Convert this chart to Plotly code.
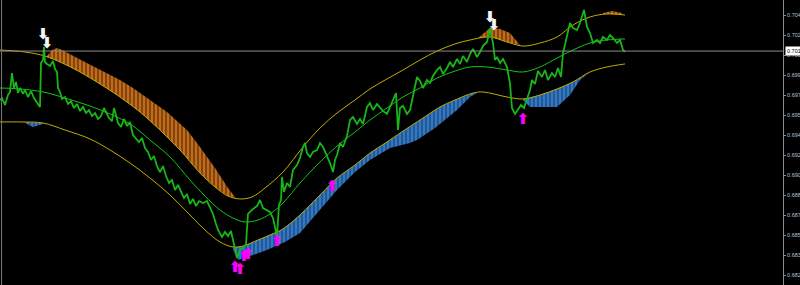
import plotly.graph_objects as go

# ---------------- data (bar index, price) ----------------
PRICE_X = [0, 2, 5, 8, 10, 12, 14, 16, 18, 20, 23, 25, 28, 31, 34, 37, 40, 41, 43, 44, 45, 47, 50, 53, 55, 57, 58, 60, 62, 65,
           68, 71, 74, 77, 80, 83, 86, 89, 92, 95, 98, 101, 104, 106, 109, 112, 114, 116, 118, 121, 124, 127, 130, 133, 136,
           139, 142, 145, 148, 151, 154, 157, 160, 163, 166, 169, 172, 175, 178, 181, 184, 187, 190, 193, 196, 199, 203, 207,
           210, 213, 216, 218, 222, 225, 228, 231, 233, 235, 237, 240, 243, 246, 248, 250, 253, 257, 260, 263, 267, 270, 273,
           277, 279, 281, 282, 284, 287, 290, 293, 297, 300, 303, 305, 307, 310, 313, 317, 320, 323, 327, 330, 333, 335, 337,
           340, 343, 347, 350, 353, 357, 360, 363, 367, 370, 373, 377, 380, 383, 387, 390, 393, 396, 398, 400, 403, 407, 410,
           413, 417, 420, 423, 427, 430, 433, 437, 440, 443, 447, 450, 453, 457, 460, 463, 467, 470, 473, 477, 480, 483, 487,
           490, 493, 495, 497, 500, 503, 507, 510, 512, 515, 518, 521, 524, 527, 530, 532, 535, 538, 542, 545, 548, 552, 555,
           558, 561, 563, 567, 570, 573, 577, 580, 584, 587, 590, 593, 597, 600, 603, 607, 610, 613, 617, 620, 623, 625]
PRICE_Y = [0.69709, 0.69726, 0.69666, 0.69752, 0.69778, 0.69941, 0.69812, 0.69864, 0.69769, 0.69812, 0.69761, 0.69795,
           0.69735, 0.69786, 0.69726, 0.69683, 0.69649, 0.70027, 0.70053, 0.70165, 0.70036, 0.70019, 0.70001, 0.70044,
           0.69976, 0.69950, 0.69812, 0.69778, 0.69718, 0.69735, 0.69675, 0.69700, 0.69640, 0.69675, 0.69614, 0.69649,
           0.69597, 0.69623, 0.69571, 0.69597, 0.69546, 0.69571, 0.69640, 0.69606, 0.69554, 0.69528, 0.69640, 0.69580,
           0.69511, 0.69477, 0.69546, 0.69485, 0.69520, 0.69408, 0.69382, 0.69348, 0.69382, 0.69296, 0.69262, 0.69193,
           0.69227, 0.69141, 0.69090, 0.69141, 0.69055, 0.68995, 0.69021, 0.68935, 0.68978, 0.68918, 0.68866, 0.68901,
           0.68815, 0.68858, 0.68797, 0.68840, 0.68823, 0.68840, 0.68780, 0.68729, 0.68643, 0.68591, 0.68531, 0.68574,
           0.68539, 0.68582, 0.68505, 0.68419, 0.68350, 0.68419, 0.68436, 0.68471, 0.68729, 0.68746, 0.68772, 0.68797,
           0.68849, 0.68780, 0.68763, 0.68746, 0.68694, 0.68539, 0.68806, 0.68849, 0.69047, 0.68918, 0.68995, 0.68961,
           0.69107, 0.69150, 0.69210, 0.69305, 0.69339, 0.69253, 0.69219, 0.69262, 0.69279, 0.69339, 0.69305, 0.69227,
           0.69167, 0.69090, 0.69193, 0.69236, 0.69339, 0.69305, 0.69399, 0.69537, 0.69563, 0.69503, 0.69546, 0.69503,
           0.69649, 0.69683, 0.69623, 0.69675, 0.69649, 0.69614, 0.69589, 0.69649, 0.69709, 0.69769, 0.69451, 0.69640,
           0.69658, 0.69589, 0.69623, 0.69735, 0.69907, 0.69873, 0.69812, 0.69881, 0.69855, 0.69915, 0.69967, 0.69993,
           0.69933, 0.69984, 0.70036, 0.69993, 0.70062, 0.70019, 0.70087, 0.70036, 0.70105, 0.70148, 0.70079, 0.70122,
           0.70173, 0.70208, 0.70328, 0.70199, 0.70053, 0.70079, 0.70027, 0.70062, 0.69993, 0.69847, 0.69640, 0.69589,
           0.69623, 0.69666, 0.69640, 0.69709, 0.69795, 0.69881, 0.69847, 0.69958, 0.69907, 0.69967, 0.69881, 0.69941,
           0.69907, 0.69984, 0.69907, 0.70113, 0.70251, 0.70371, 0.70328, 0.70311, 0.70371, 0.70483, 0.70337, 0.70285,
           0.70199, 0.70225, 0.70199, 0.70251, 0.70225, 0.70268, 0.70242, 0.70199, 0.70225, 0.70139, 0.70122]

UPPER_X = [0, 25, 45, 60, 80, 100, 120, 140, 160, 180, 200, 215, 228, 240, 252, 265, 283, 303, 320, 337, 355, 370, 387,
           403, 420, 437, 455, 470, 490, 507, 523, 540, 557, 573, 590, 607, 625]
UPPER_Y = [0.70139, 0.70122, 0.70087, 0.70036, 0.69950, 0.69847, 0.69735, 0.69606, 0.69451, 0.69279, 0.69081, 0.68961,
           0.68883, 0.68858, 0.68875, 0.68952, 0.69090, 0.69305, 0.69468, 0.69597, 0.69709, 0.69804, 0.69890, 0.69967,
           0.70053, 0.70130, 0.70191, 0.70225, 0.70251, 0.70208, 0.70173, 0.70199, 0.70251, 0.70354, 0.70423, 0.70449,
           0.70440]

MIDDLE_X = [0, 20, 43, 65, 90, 110, 130, 150, 170, 190, 205, 220, 233, 245, 258, 270, 283, 300, 320, 337, 355, 370, 387,
            403, 420, 437, 455, 470, 487, 507, 523, 540, 557, 573, 590, 607, 625]
MIDDLE_Y = [0.69812, 0.69804, 0.69778, 0.69726, 0.69657, 0.69589, 0.69503, 0.69365, 0.69219, 0.69021, 0.68883, 0.68763,
            0.68694, 0.68660, 0.68677, 0.68729, 0.68823, 0.68995, 0.69176, 0.69313, 0.69434, 0.69537, 0.69640, 0.69735,
            0.69812, 0.69898, 0.69958, 0.69993, 0.69993, 0.69967, 0.69950, 0.69993, 0.70070, 0.70139, 0.70199, 0.70225,
            0.70234]

LOWER_X = [0, 20, 43, 65, 90, 110, 130, 150, 170, 190, 205, 220, 233, 243, 258, 270, 283, 300, 320, 337, 355, 370, 387,
           403, 420, 440, 455, 473, 483, 507, 523, 540, 557, 573, 590, 607, 625]
LOWER_Y = [0.69520, 0.69520, 0.69511, 0.69451, 0.69374, 0.69279, 0.69167, 0.69038, 0.68892, 0.68720, 0.68591, 0.68488,
           0.68445, 0.68453, 0.68505, 0.68548, 0.68600, 0.68720, 0.68892, 0.69038, 0.69150, 0.69253, 0.69348, 0.69442,
           0.69537, 0.69649, 0.69709, 0.69769, 0.69778, 0.69735, 0.69718, 0.69752, 0.69804, 0.69864, 0.69950, 0.69993,
           0.70019]

# orange (sell) zones: top edge and bottom edge
ORANGE_ZONES = [
    dict(top_x=[47, 52, 57, 62, 83, 100, 120, 133, 150, 167, 187, 200, 215, 228, 235],
         top_y=[0.70087, 0.70139, 0.70156, 0.70139, 0.70044, 0.69967, 0.69881, 0.69812, 0.69709, 0.69606, 0.69451,
                0.69305, 0.69124, 0.68952, 0.68875],
         bot_x=[47, 60, 80, 100, 120, 140, 160, 180, 200, 215, 228, 235],
         bot_y=[0.70079, 0.70036, 0.69950, 0.69847, 0.69735, 0.69606, 0.69451, 0.69279, 0.69081, 0.68961, 0.68883,
                0.68866]),
    dict(top_x=[478, 490, 500, 510, 520],
         top_y=[0.70242, 0.70328, 0.70320, 0.70285, 0.70182],
         bot_x=[478, 490, 507, 520],
         bot_y=[0.70242, 0.70251, 0.70208, 0.70182]),
    dict(top_x=[603, 612, 622],
         top_y=[0.70457, 0.70474, 0.70457],
         bot_x=[603, 607, 622],
         bot_y=[0.70444, 0.70449, 0.70440]),
]

# blue (buy) zones
BLUE_ZONES = [
    dict(top_x=[233, 243, 258, 270, 283, 300, 320, 337, 355, 370, 387, 403, 420, 440, 455, 473, 477],
         top_y=[0.68445, 0.68453, 0.68505, 0.68548, 0.68600, 0.68720, 0.68892, 0.69038, 0.69150, 0.69253, 0.69348,
                0.69442, 0.69537, 0.69649, 0.69709, 0.69769, 0.69772],
         bot_x=[233, 238, 250, 267, 285, 300, 318, 337, 355, 370, 390, 410, 417, 435, 457, 470, 477],
         bot_y=[0.68419, 0.68333, 0.68367, 0.68419, 0.68488, 0.68565, 0.68746, 0.68935, 0.69090, 0.69193, 0.69296,
                0.69339, 0.69365, 0.69468, 0.69623, 0.69735, 0.69769]),
    dict(top_x=[523, 540, 557, 573, 590, 597],
         top_y=[0.69718, 0.69752, 0.69804, 0.69864, 0.69950, 0.69976],
         bot_x=[523, 530, 557, 570, 580, 590, 597],
         bot_y=[0.69709, 0.69649, 0.69649, 0.69752, 0.69881, 0.69950, 0.69976]),
    dict(top_x=[25, 43],
         top_y=[0.69520, 0.69511],
         bot_x=[25, 33, 43],
         bot_y=[0.69511, 0.69477, 0.69503]),
]

# arrow centres
BUY_ARROW_X = [235, 240, 244, 248, 277, 332, 523]
BUY_ARROW_Y = [0.68264, 0.68247, 0.68359, 0.68376, 0.68488, 0.68961, 0.69537]
SELL_ARROW_X = [43, 47, 490, 494]
SELL_ARROW_Y = [0.70268, 0.70191, 0.70414, 0.70345]

TICK_VALUES = [0.70440, 0.70268, 0.70096, 0.69924, 0.69752, 0.69580, 0.69408, 0.69236, 0.69064, 0.68892, 0.68720,
               0.68548, 0.68376, 0.68204]
TICK_LABELS = ["0.704", "0.702", "0.700", "0.699", "0.697", "0.695", "0.694", "0.692", "0.690", "0.688", "0.687",
               "0.685", "0.683", "0.682"]
CURRENT_PRICE = 0.70130
CURRENT_LABEL = "0.701"
X_RANGE = [0, 783]
Y_RANGE = [0.68118, 0.70569]

# ---------------- figure ----------------
fig = go.Figure()


def zone(z, fill, fg):
    xs = z["top_x"] + z["bot_x"][::-1]
    ys = z["top_y"] + z["bot_y"][::-1]
    fig.add_trace(go.Scatter(
        x=xs, y=ys, mode="lines", fill="toself", line=dict(width=0, color=fill),
        fillcolor=fill,
        fillpattern=dict(shape="|", bgcolor=fill, fgcolor=fg, size=4, solidity=0.35),
        hoverinfo="skip", showlegend=False))


for z in ORANGE_ZONES:
    zone(z, "#c06c1c", "#683404")
for z in BLUE_ZONES:
    zone(z, "#3478c0", "#1a4a86")

band_color = "#c2ac00"
fig.add_trace(go.Scatter(x=UPPER_X, y=UPPER_Y, mode="lines", line=dict(color=band_color, width=1, shape="spline"),
                         showlegend=False))
fig.add_trace(go.Scatter(x=LOWER_X, y=LOWER_Y, mode="lines", line=dict(color=band_color, width=1, shape="spline"),
                         showlegend=False))
fig.add_trace(go.Scatter(x=MIDDLE_X, y=MIDDLE_Y, mode="lines", line=dict(color="#10c810", width=1, shape="spline"),
                         showlegend=False))
fig.add_trace(go.Scatter(x=PRICE_X, y=PRICE_Y, mode="lines", line=dict(color="#18b418", width=1.8),
                         showlegend=False))

# signal arrows as glyphs
fig.add_trace(go.Scatter(x=BUY_ARROW_X, y=BUY_ARROW_Y, mode="text", text=["⬆"] * len(BUY_ARROW_X),
                         textfont=dict(color="#ff00ff", size=15, family="DejaVu Sans", weight="bold"),
                         textposition="middle center", showlegend=False))
fig.add_trace(go.Scatter(x=SELL_ARROW_X, y=SELL_ARROW_Y, mode="text", text=["⬇"] * len(SELL_ARROW_X),
                         textfont=dict(color="#f4f4f4", size=15, family="DejaVu Sans", weight="bold"),
                         textposition="middle center", showlegend=False))

# current price line
fig.add_shape(type="line", xref="paper", x0=0, x1=1, yref="y", y0=CURRENT_PRICE, y1=CURRENT_PRICE,
              line=dict(color="#8a8a8a", width=1))
# left border
fig.add_shape(type="line", xref="paper", x0=0.002, x1=0.002, yref="paper", y0=0, y1=1,
              line=dict(color="#7a7a7a", width=1))

fig.add_annotation(xref="paper", x=1.003, xanchor="left", yref="y", y=CURRENT_PRICE, yanchor="middle",
                   text=CURRENT_LABEL, showarrow=False, bgcolor="#ffffff", borderpad=1,
                   font=dict(color="#000000", size=5.5, family="Liberation Sans"))

fig.update_layout(
    width=800, height=285, margin=dict(l=0, r=17, t=0, b=0),
    paper_bgcolor="#000000", plot_bgcolor="#000000", template="none", showlegend=False,
    xaxis=dict(range=X_RANGE, visible=False, showgrid=False, zeroline=False, automargin=False),
    yaxis=dict(range=Y_RANGE, side="right", showgrid=False, zeroline=False, automargin=False,
               showline=True, linecolor="#8a8a8a", linewidth=1,
               ticks="outside", ticklen=2, tickcolor="#8a8a8a",
               tickvals=TICK_VALUES, ticktext=TICK_LABELS,
               tickfont=dict(color="#b8c4d0", size=5.5, family="Liberation Sans")),
)

fig.write_html("out.html")
